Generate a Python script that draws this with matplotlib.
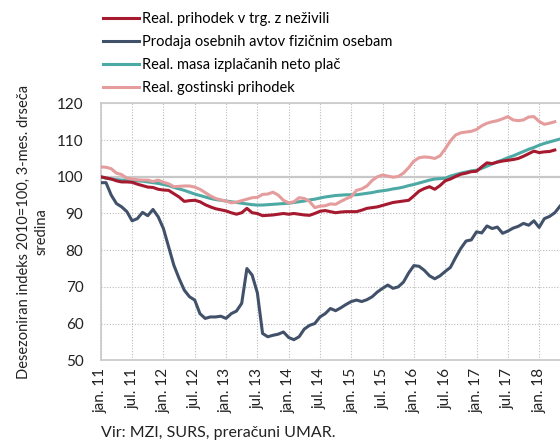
import numpy as np
import matplotlib
matplotlib.use('Agg')
import matplotlib.pyplot as plt

plt.rcParams['font.family'] = ['Lato', 'DejaVu Sans']

# mesečni podatki, jan. 2011 = mesec 0
avti = [98.4, 98.4, 95.0, 92.7, 91.8, 90.5, 88.0, 88.6, 90.3, 89.4, 91.1, 89.1,
        85.9, 80.9, 75.9, 72.3, 69.1, 67.3, 66.4, 62.7, 61.4, 61.8, 61.8, 62.0,
        61.4, 62.7, 63.4, 65.5, 75.0, 73.2, 68.4, 57.3, 56.4, 56.8, 57.1, 57.7,
        56.2, 55.6, 56.4, 58.5, 59.5, 60.0, 61.8, 62.7, 64.1, 63.5, 64.3, 65.2,
        66.0, 66.4, 66.0, 66.5, 67.3, 68.6, 69.6, 70.5, 69.6, 70.0, 71.3, 73.8,
        75.8, 75.6, 74.5, 73.0, 72.2, 73.0, 74.2, 75.3, 78.0, 80.5, 82.5, 82.8,
        85.0, 84.7, 86.6, 85.9, 86.3, 84.6, 85.2, 86.0, 86.5, 87.3, 86.8, 88.0,
        86.2, 88.6, 89.2, 90.2, 92.0]

trgovina = [100.0, 99.7, 99.4, 98.9, 98.6, 98.6, 98.5, 98.0, 97.6, 97.2, 97.1, 96.6,
            96.4, 96.3, 95.4, 94.5, 93.3, 93.5, 93.6, 93.2, 92.4, 91.8, 91.3, 91.0,
            90.7, 90.2, 89.8, 90.2, 91.4, 90.2, 90.0, 89.4, 89.5, 89.6, 89.8, 90.0,
            89.8, 90.0, 89.8, 89.6, 89.5, 90.0, 90.6, 90.8, 90.5, 90.2, 90.4, 90.5,
            90.5, 90.5, 90.9, 91.4, 91.6, 91.8, 92.2, 92.6, 93.0, 93.2, 93.4, 93.6,
            94.8, 96.1, 96.8, 97.3, 96.6, 97.6, 98.9, 99.4, 100.1, 100.7, 101.0, 101.4,
            101.5, 102.7, 103.8, 103.6, 104.0, 104.3, 104.5, 104.7, 105.0, 105.6, 106.3, 107.0,
            106.6, 106.8, 106.9, 107.3]

place = [100.0, 99.6, 99.4, 99.2, 99.1, 99.1, 99.0, 98.9, 98.8, 98.6, 98.4, 98.2,
         97.9, 97.6, 97.1, 96.7, 96.3, 95.8, 95.3, 94.9, 94.5, 94.1, 93.8, 93.6,
         93.4, 93.2, 93.0, 92.8, 92.6, 92.4, 92.3, 92.3, 92.4, 92.5, 92.6, 92.7,
         92.8, 93.0, 93.2, 93.4, 93.7, 93.9, 94.2, 94.5, 94.7, 94.9, 95.0, 95.1,
         95.1, 95.1, 95.3, 95.5, 95.7, 96.0, 96.2, 96.4, 96.7, 96.9, 97.2, 97.6,
         97.9, 98.3, 98.7, 99.1, 99.4, 99.5, 99.6, 100.2, 100.6, 101.0, 101.3, 101.6,
         101.8, 102.3, 102.9, 103.5, 104.1, 104.6, 105.2, 105.7, 106.3, 106.9, 107.5, 108.0,
         108.6, 109.1, 109.5, 109.9, 110.3]

gostinstvo = [102.7, 102.6, 102.2, 101.0, 100.6, 99.6, 99.4, 99.2, 99.1, 99.1, 98.7, 99.1,
              98.5, 98.1, 97.3, 97.4, 97.5, 97.5, 97.2, 96.6, 95.7, 94.8, 94.1, 93.7,
              93.4, 92.9, 93.1, 93.5, 93.9, 94.3, 94.4, 95.2, 95.3, 95.8, 95.0, 93.6,
              92.9, 93.2, 94.3, 94.1, 93.3, 91.6, 92.0, 92.1, 92.6, 92.5, 93.3, 94.0,
              94.6, 96.3, 96.7, 97.5, 99.0, 100.0, 100.5, 100.2, 99.9, 100.1, 101.0, 102.5,
              104.3, 105.2, 105.4, 105.3, 105.0, 105.7, 107.6, 109.8, 111.4, 112.0, 112.2, 112.4,
              112.9, 113.9, 114.6, 115.0, 115.3, 115.8, 116.4, 115.5, 115.3, 115.5, 116.3, 116.4,
              115.1, 114.3, 114.6, 115.0]

oznake = ['jan. 11', 'jul. 11', 'jan. 12', 'jul. 12', 'jan. 13', 'jul. 13', 'jan. 14',
          'jul. 14', 'jan. 15', 'jul. 15', 'jan. 16', 'jul. 16', 'jan. 17', 'jul. 17', 'jan. 18']

imena = ['Real. prihodek v trg. z neživili', 'Prodaja osebnih avtov fizičnim osebam',
         'Real. masa izplačanih neto plač', 'Real. gostinski prihodek']
barve = ['#A6192E', '#42516A', '#4DA9A4', '#E59C9C']

fig = plt.figure(figsize=(5.6, 4.42), dpi=100)
ax = fig.add_axes([0.180, 0.185, 0.820, 0.581])

serije = [trgovina, avti, place, gostinstvo]
# vrstni red risanja: avti, place, trgovina, gostinstvo
vrstni = [1, 2, 0, 3]
crte = {}
for i in vrstni:
    s = serije[i]
    crte[i], = ax.plot(np.arange(len(s)), s, color=barve[i], linewidth=2.2, label=imena[i],
                       solid_joinstyle='round', zorder=3)

ax.set_xlim(0, 88)
ax.set_ylim(50, 120)
ax.set_yticks(range(50, 121, 10))
ax.set_xticks(range(0, 85, 6))
ax.set_xticklabels(oznake, rotation=90)
ax.tick_params(axis='both', length=0, labelsize=11, colors='#222222')
ax.tick_params(axis='y', pad=12.5)
ax.tick_params(axis='x', pad=5.5)
ax.grid(True, color='#BBBBBB', linestyle=(0, (1, 1.5)), linewidth=0.8)
ax.axhline(100, color='#C8C8C8', linewidth=1.6, zorder=2)
for k in ['left', 'bottom', 'top']:
    ax.spines[k].set_color('#C8C8C8')
    ax.spines[k].set_linewidth(1.2)
ax.spines['right'].set_visible(False)

ax.set_ylabel('Desezoniran indeks 2010=100, 3-mes. drseča\nsredina', fontsize=10.5,
              color='#222222', labelpad=6, linespacing=1.3)

fig.legend([crte[i] for i in range(4)], imena, loc='upper left', bbox_to_anchor=(0.165, 0.995),
           frameon=False, fontsize=10.5, handlelength=2.5, handletextpad=0.2,
           labelspacing=0.61, borderaxespad=0.3)

fig.text(0.18, 0.011, 'Vir: MZI, SURS, preračuni UMAR.', fontsize=11.5, color='#222222')

fig.savefig('out.png', dpi=100)
